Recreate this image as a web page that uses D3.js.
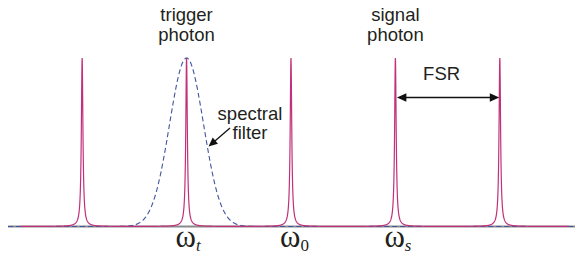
<!DOCTYPE html>
<html><head><meta charset="utf-8">
<script src="https://cdn.jsdelivr.net/npm/d3@7"></script>
<style>
html,body{margin:0;padding:0;background:#fff;}
svg{display:block;}
text{font-family:"Liberation Sans",Arial,sans-serif;fill:#231f20;}
.om{font-family:"Liberation Serif","Times New Roman",serif;}
</style></head>
<body><svg id="c" width="579" height="262"></svg>
<script>
// ---- data ----
const resonanceOrders = [-2, -1, 0, 1, 2];           // comb lines, in FSR units relative to ω0
const finesseF = 1250;                                // Airy coefficient (linewidth of comb lines)
const filterCenter = -1;                              // spectral filter centred on ω_t
const filterSigma = 0.163;                            // filter width (FSR units)
const freqLabels = [{x:-1, base:"ω", sub:"t", italic:true},
                    {x: 0, base:"ω", sub:"0", italic:false},
                    {x: 1, base:"ω", sub:"s", italic:true}];
const topLabels = [{x:-1, lines:["trigger","photon"]},
                   {x: 1, lines:["signal","photon"]}];
const fsrSpan = [1, 2];

const W = 579, H = 262;
const x = d3.scaleLinear().domain([-2.71, 2.72]).range([8, 575]);
const y = d3.scaleLinear().domain([0, 1]).range([226.5, 58]);
const svg = d3.select("#c");

// axis baseline
svg.append("line").attr("x1", x(-2.71)).attr("x2", x(2.72))
  .attr("y1", y(0)).attr("y2", y(0)).attr("stroke", "#8a8a8a").attr("stroke-width", 1.8);

// spectral filter (gaussian, dashed)
const gx = d3.range(-2710, 2721, 2).map(i => i / 1000);
const gauss = gx.map(v => [v, Math.exp(-((v - filterCenter) ** 2) / (2 * filterSigma ** 2))]);
svg.append("path").datum(gauss)
  .attr("d", d3.line().x(d => x(d[0])).y(d => y(d[1])))
  .attr("fill", "none").attr("stroke", "#3f54a3").attr("stroke-width", 1.1)
  .attr("stroke-dasharray", "5,3");

// cavity transmission (Airy)
const ax = d3.range(-2590, 2661, 1).map(i => i / 1000);
const airy = ax.map(v => [v, 1 / (1 + finesseF * Math.sin(Math.PI * v) ** 2)]);
svg.append("path").datum(airy)
  .attr("d", d3.line().x(d => x(d[0])).y(d => y(d[1])))
  .attr("fill", "none").attr("stroke", "#c1307a").attr("stroke-width", 1.2);

// top labels
topLabels.forEach(l => {
  const t = svg.append("text").attr("text-anchor", "middle").attr("font-size", 18.5);
  l.lines.forEach((s, i) => t.append("tspan").attr("x", x(l.x)).attr("y", 21 + i * 19.5).text(s));
});

// spectral filter label
const sf = svg.append("text").attr("text-anchor", "middle").attr("font-size", 18.5);
["spectral", "filter"].forEach((s, i) => sf.append("tspan").attr("x", 250).attr("y", 119.5 + i * 19.5).text(s));

// arrowhead helper
function head(x0, y0, x1, y1, len, hw) {
  const a = Math.atan2(y1 - y0, x1 - x0);
  const bx = x1 - len * Math.cos(a), by = y1 - len * Math.sin(a);
  const px = -Math.sin(a) * hw, py = Math.cos(a) * hw;
  return `M${x1},${y1}L${bx + px},${by + py}L${bx - px},${by - py}Z`;
}
// pointer arrow to filter
const p0 = [230, 128], p1 = [208.5, 146.5];
svg.append("line").attr("x1", p0[0]).attr("y1", p0[1]).attr("x2", p1[0] + 5).attr("y2", p1[1] - 4.3)
  .attr("stroke", "#111").attr("stroke-width", 1.3);
svg.append("path").attr("d", head(p0[0], p0[1], p1[0], p1[1], 9, 4)).attr("fill", "#111");

// FSR arrow
const fy = 97.5, fx0 = x(fsrSpan[0]) + 1.5, fx1 = x(fsrSpan[1]) - 0.5;
svg.append("line").attr("x1", fx0 + 6).attr("x2", fx1 - 6).attr("y1", fy).attr("y2", fy)
  .attr("stroke", "#111").attr("stroke-width", 1.3);
svg.append("path").attr("d", head(fx1, fy, fx0, fy, 9.5, 4.2)).attr("fill", "#111");
svg.append("path").attr("d", head(fx0, fy, fx1, fy, 9.5, 4.2)).attr("fill", "#111");
svg.append("text").attr("x", (x(fsrSpan[0]) + x(fsrSpan[1])) / 2 - 6).attr("y", 80)
  .attr("text-anchor", "middle").attr("font-size", 18.5).text("FSR");

// frequency labels
freqLabels.forEach(l => {
  const t = svg.append("text").attr("class", "om").attr("x", x(l.x) - 11).attr("y", 246.5).attr("font-size", 31);
  t.append("tspan").text(l.base);
  t.append("tspan").attr("font-size", 17).attr("dy", 4)
    .attr("font-style", l.italic ? "italic" : "normal").text(l.sub);
});
</script></body></html>
